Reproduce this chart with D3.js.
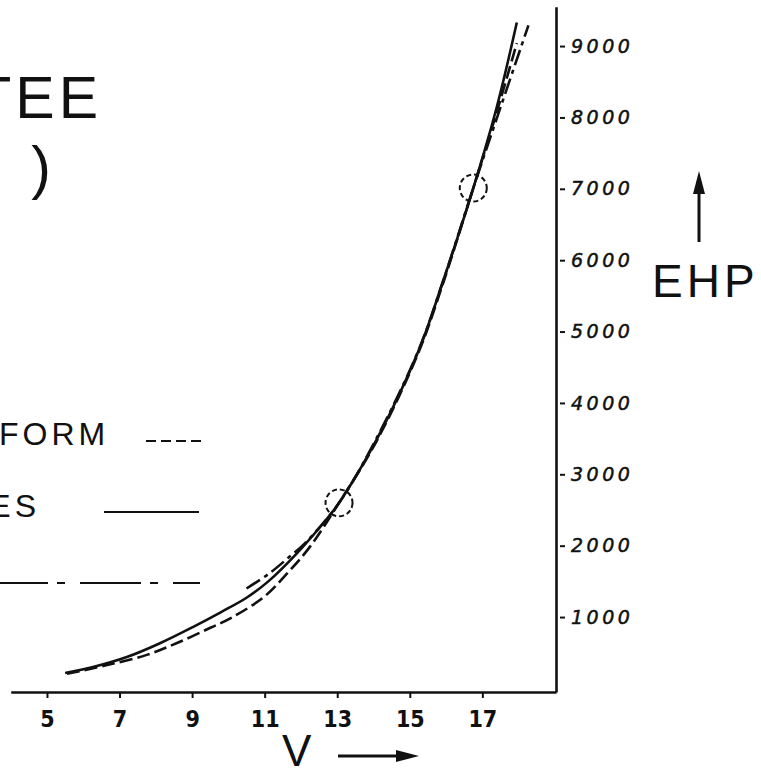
<!DOCTYPE html>
<html>
<head>
<meta charset="utf-8">
<script src="https://cdn.jsdelivr.net/npm/d3@7"></script>
<style>
  html, body { margin: 0; padding: 0; background: #fff; }
  svg { display: block; }
  text { fill: #111; }
</style>
</head>
<body>
<div id="chart"></div>
<script>
// values (V on x, EHP on y)
let tick_v = [5, 7, 9, 11, 13, 15, 17];
let tick_ehp = [1000, 2000, 3000, 4000, 5000, 6000, 7000, 8000, 9000];

let solid_v   = [5.5, 6.27, 7.2, 8.1, 9.02, 9.8, 10.5, 11.1, 11.9, 12.8, 13.05, 14.1, 15.25, 15.9, 16.75, 17.4, 17.95];
let solid_ehp = [215, 300, 440, 630, 860, 1070, 1270, 1500, 1900, 2430, 2600, 3500, 4740, 5680, 7010, 8150, 9330];

let dashed_v   = [5.55, 6.6, 7.75, 8.6, 9.49, 10.12, 11.0, 11.6, 12.24, 13.05, 14.1, 15.25, 15.9, 16.75, 17.4, 17.95];
let dashed_ehp = [205, 320, 470, 640, 846, 1000, 1290, 1600, 1980, 2600, 3480, 4720, 5650, 7010, 8080, 9040];

let dashdot_v   = [10.5, 11.15, 11.65, 12.1, 13.05, 14.1, 15.25, 15.9, 16.75, 17.5, 18.27];
let dashdot_ehp = [1400, 1620, 1830, 2030, 2600, 3520, 4750, 5680, 7010, 8140, 9290];

// dashed rings round the two crossing points
let ring_v = [13.05, 16.75];
let ring_ehp = [2600, 7010];

let legend_labels = ["FORM", "ES", ""];
let legend_styles = ["dashed", "solid", "dashdot"];
let title_lines = ["TEE", ")"];
let x_label = "V";
let y_label = "EHP";

let settings = {
    width: 761,
    height: 772,
    ink: "#111",
    lettering: "'Liberation Sans', 'DejaVu Sans', sans-serif",
};

let dash_of = {
    solid: null,
    dashed: "13,5",
    dashdot: "16,5,4,5",
};

function get_svg(elementId) {
    let chart = d3.select(document.getElementById(elementId));
    chart.selectAll("svg").remove();
    return chart.append("svg")
        .attr("width", settings.width)
        .attr("height", settings.height)
        .style("background", "#fff");
}

function draw(elementId) {
    let svg = get_svg(elementId);

    let x = d3.scaleLinear().domain([4, 19.03]).range([10.7, 556]);
    let y = d3.scaleLinear().domain([-50, 9550]).range([692, 6.8]);

    // x axis along the bottom
    let x_axis = svg.append("g")
        .attr("transform", "translate(0," + y(-50) + ")")
        .call(d3.axisBottom(x)
            .tickValues(tick_v)
            .tickSize(6)
            .tickSizeOuter(0)
            .tickPadding(13)
            .tickFormat(d3.format("d")));
    x_axis.select(".domain").attr("stroke", settings.ink).attr("stroke-width", 2.6);
    x_axis.selectAll(".tick line").attr("stroke", settings.ink).attr("stroke-width", 2);
    x_axis.selectAll(".tick text")
        .attr("fill", settings.ink)
        .style("font-family", "'DejaVu Sans Condensed', 'DejaVu Sans', sans-serif")
        .style("font-weight", "bold")
        .style("font-size", "23px");

    // y axis on the right
    let y_axis = svg.append("g")
        .attr("transform", "translate(" + x(19.03) + ",0)")
        .call(d3.axisRight(y)
            .tickValues(tick_ehp)
            .tickSize(9)
            .tickSizeOuter(0)
            .tickPadding(6)
            .tickFormat(d3.format("d")));
    y_axis.select(".domain").attr("stroke", settings.ink).attr("stroke-width", 2.6);
    y_axis.selectAll(".tick line").attr("x1", 4).attr("stroke", settings.ink).attr("stroke-width", 2);
    y_axis.selectAll(".tick text")
        .attr("fill", settings.ink)
        .attr("stroke", settings.ink)
        .attr("stroke-width", 0.5)
        .style("font-family", "'DejaVu Sans', sans-serif")
        .style("font-style", "italic")
        .style("font-size", "19px")
        .style("letter-spacing", "3.5px");

    // curves
    let series = [
        { v: solid_v, ehp: solid_ehp, style: "solid" },
        { v: dashed_v, ehp: dashed_ehp, style: "dashed" },
        { v: dashdot_v, ehp: dashdot_ehp, style: "dashdot" },
    ];

    let line = d3.line()
        .x(d => x(d[0]))
        .y(d => y(d[1]))
        .curve(d3.curveCatmullRom.alpha(0.5));

    svg.append("g")
        .attr("class", "curves")
        .selectAll("path")
        .data(series)
        .enter().append("path")
        .attr("fill", "none")
        .attr("stroke", settings.ink)
        .attr("stroke-width", 2.6)
        .attr("stroke-dasharray", d => dash_of[d.style])
        .attr("d", d => line(d3.zip(d.v, d.ehp)));

    svg.append("g")
        .attr("class", "rings")
        .selectAll("circle")
        .data(d3.zip(ring_v, ring_ehp))
        .enter().append("circle")
        .attr("cx", d => x(d[0]))
        .attr("cy", d => y(d[1]))
        .attr("r", 13.5)
        .attr("fill", "none")
        .attr("stroke", settings.ink)
        .attr("stroke-width", 2)
        .attr("stroke-dasharray", "5,3");

    // title, cut off at the left edge of the scan
    svg.append("text")
        .attr("x", 102).attr("y", 118)
        .attr("text-anchor", "end")
        .style("font-family", settings.lettering)
        .style("font-size", "59px")
        .style("letter-spacing", "4px")
        .text(title_lines[0]);
    svg.append("text")
        .attr("x", 51).attr("y", 188)
        .attr("text-anchor", "end")
        .style("font-family", settings.lettering)
        .style("font-size", "59px")
        .text(title_lines[1]);

    // legend
    let legend_rows = [
        { y_text: 445, y_line: 441, x0: 146, x1: 201 },
        { y_text: 517, y_line: 512, x0: 104, x1: 199 },
        { y_text: 588, y_line: 583, x0: 0, x1: 200 },
    ];
    let legend_dash = { solid: null, dashed: "10,5", dashdot: "61,9,8,15" };

    let legend = svg.append("g").attr("class", "legend");
    legend_rows.forEach((row, i) => {
        legend.append("text")
            .attr("x", -1).attr("y", row.y_text)
            .style("font-family", settings.lettering)
            .style("font-size", "32px")
            .style("letter-spacing", "4px")
            .text(legend_labels[i]);
        legend.append("line")
            .attr("x1", row.x0).attr("x2", row.x1)
            .attr("y1", row.y_line).attr("y2", row.y_line)
            .attr("stroke", settings.ink)
            .attr("stroke-width", 2)
            .attr("stroke-dasharray", legend_dash[legend_styles[i]])
            .attr("stroke-dashoffset", legend_styles[i] == "dashdot" ? 13 : 0);
    });
    // the "ES" row ends at the same spot as in the scan
    legend.selectAll("text").filter((d, i) => i == 1)
        .attr("x", 40).attr("text-anchor", "end");

    // axis names with arrows
    svg.append("text")
        .attr("x", 282).attr("y", 766)
        .style("font-family", settings.lettering)
        .style("font-size", "44px")
        .text(x_label);
    svg.append("line")
        .attr("x1", 338).attr("x2", 404)
        .attr("y1", 756).attr("y2", 756)
        .attr("stroke", settings.ink).attr("stroke-width", 3);
    svg.append("path")
        .attr("d", "M396,750 L419,756 L396,762 Z")
        .attr("fill", settings.ink);

    svg.append("text")
        .attr("x", 652).attr("y", 297)
        .style("font-family", settings.lettering)
        .style("font-size", "46px")
        .style("letter-spacing", "4px")
        .text(y_label);
    svg.append("line")
        .attr("x1", 699).attr("x2", 699)
        .attr("y1", 242).attr("y2", 186)
        .attr("stroke", settings.ink).attr("stroke-width", 3);
    svg.append("path")
        .attr("d", "M693,194 L699,171 L705,194 Z")
        .attr("fill", settings.ink);
}

draw("chart");
</script>
</body>
</html>
